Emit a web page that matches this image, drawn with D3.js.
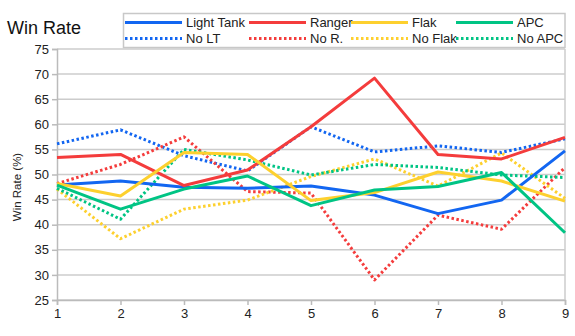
<!DOCTYPE html>
<html><head><meta charset="utf-8">
<script src="https://cdn.jsdelivr.net/npm/d3@7"></script>
<style>body{margin:0;background:#fff;font-family:"Liberation Sans",Arial,sans-serif;}</style>
</head><body><svg id="c" width="575" height="336"></svg>
<script>
const xTicks = [1,2,3,4,5,6,7,8,9];
const yTicks = [25,30,35,40,45,50,55,60,65,70,75];
const seriesNames = ["Light Tank","Ranger","Flak","APC","No LT","No R.","No Flak","No APC"];
const seriesColors = ["#1266f1","#f43c3c","#fdd02e","#00c484","#1266f1","#f43c3c","#fdd02e","#00c484"];
const seriesDotted = [false,false,false,false,true,true,true,true];
const lightTank = [47.9,48.7,47.45,47.25,47.7,45.9,42.2,44.9,54.7];
const ranger    = [53.4,54.0,47.8,50.9,59.5,69.2,54.0,53.1,57.4];
const flak      = [48.2,45.7,54.4,54.0,44.8,46.4,50.5,48.7,44.7];
const apc       = [47.9,43.1,47.1,49.7,43.8,46.9,47.6,50.4,38.4];
const noLT      = [56.1,58.9,53.75,50.7,59.5,54.5,55.7,54.4,57.1];
const noR       = [48.2,52.0,57.5,46.6,46.3,29.0,41.9,39.1,51.4];
const noFlak    = [47.1,37.2,43.1,44.9,49.6,53.1,47.7,54.3,45.25];
const noAPC     = [47.25,41.1,55.0,52.9,49.9,52.0,51.4,49.9,49.4];
const seriesValues = [lightTank,ranger,flak,apc,noLT,noR,noFlak,noAPC];

const svg = d3.select("#c");
const x = d3.scaleLinear().domain([1,9]).range([57,565]);
const y = d3.scaleLinear().domain([25,75]).range([300,49]);

svg.append("g").selectAll("line").data(yTicks).join("line")
  .attr("x1",57).attr("x2",565).attr("y1",d=>y(d)).attr("y2",d=>y(d))
  .attr("stroke","#cccccc").attr("stroke-width",1.5);
svg.append("line").attr("x1",565).attr("x2",565).attr("y1",49).attr("y2",300)
  .attr("stroke","#cccccc").attr("stroke-width",1.5);

const yAxis = svg.append("g").attr("transform","translate(57,0)")
  .call(d3.axisLeft(y).tickValues(yTicks).tickSize(5).tickPadding(3));
const xAxis = svg.append("g").attr("transform","translate(0,300)")
  .call(d3.axisBottom(x).tickValues(xTicks).tickSize(5).tickPadding(4));
[yAxis,xAxis].forEach(a=>{
  a.select(".domain").attr("stroke","#bbbbbb").attr("stroke-width",1.5);
  a.selectAll(".tick line").attr("stroke","#bbbbbb").attr("stroke-width",1.5);
  a.selectAll("text").attr("fill","#222").style("font-size","13px").style("font-family","'Liberation Sans',Arial,sans-serif");
});

const line = d3.line().x((d,i)=>x(xTicks[i])).y(d=>y(d));
const order = [4,5,6,7,0,1,2,3];
order.forEach(k=>{
  svg.append("path").datum(seriesValues[k]).attr("d",line)
    .attr("fill","none").attr("stroke",seriesColors[k]).attr("stroke-width",3)
    .attr("stroke-dasharray",seriesDotted[k]?"2.5,2.5":null)
    .attr("stroke-linejoin","round");
});

svg.append("text").attr("x",7).attr("y",34).text("Win Rate")
  .style("font-size","18px").attr("fill","#111");
svg.append("text").attr("transform","translate(21,187) rotate(-90)")
  .attr("text-anchor","middle").text("Win Rate (%)")
  .style("font-size","11.5px").attr("fill","#222");

const lg = svg.append("g");
lg.append("rect").attr("x",123.5).attr("y",13.5).attr("width",441.5).attr("height",34)
  .attr("fill","#fff").attr("stroke","#c8c8c8").attr("stroke-width",1.5);
const colX = [125,249,351,456];
seriesNames.forEach((n,i)=>{
  const cx = colX[i%4], cy = i<4?22.5:38.5;
  lg.append("line").attr("x1",cx).attr("x2",cx+57).attr("y1",cy).attr("y2",cy)
    .attr("stroke",seriesColors[i]).attr("stroke-width",3)
    .attr("stroke-dasharray",seriesDotted[i]?"2.5,2.5":null);
  lg.append("text").attr("x",cx+61).attr("y",cy+4.5).text(n)
    .style("font-size","13px").attr("fill","#222");
});
</script></body></html>
